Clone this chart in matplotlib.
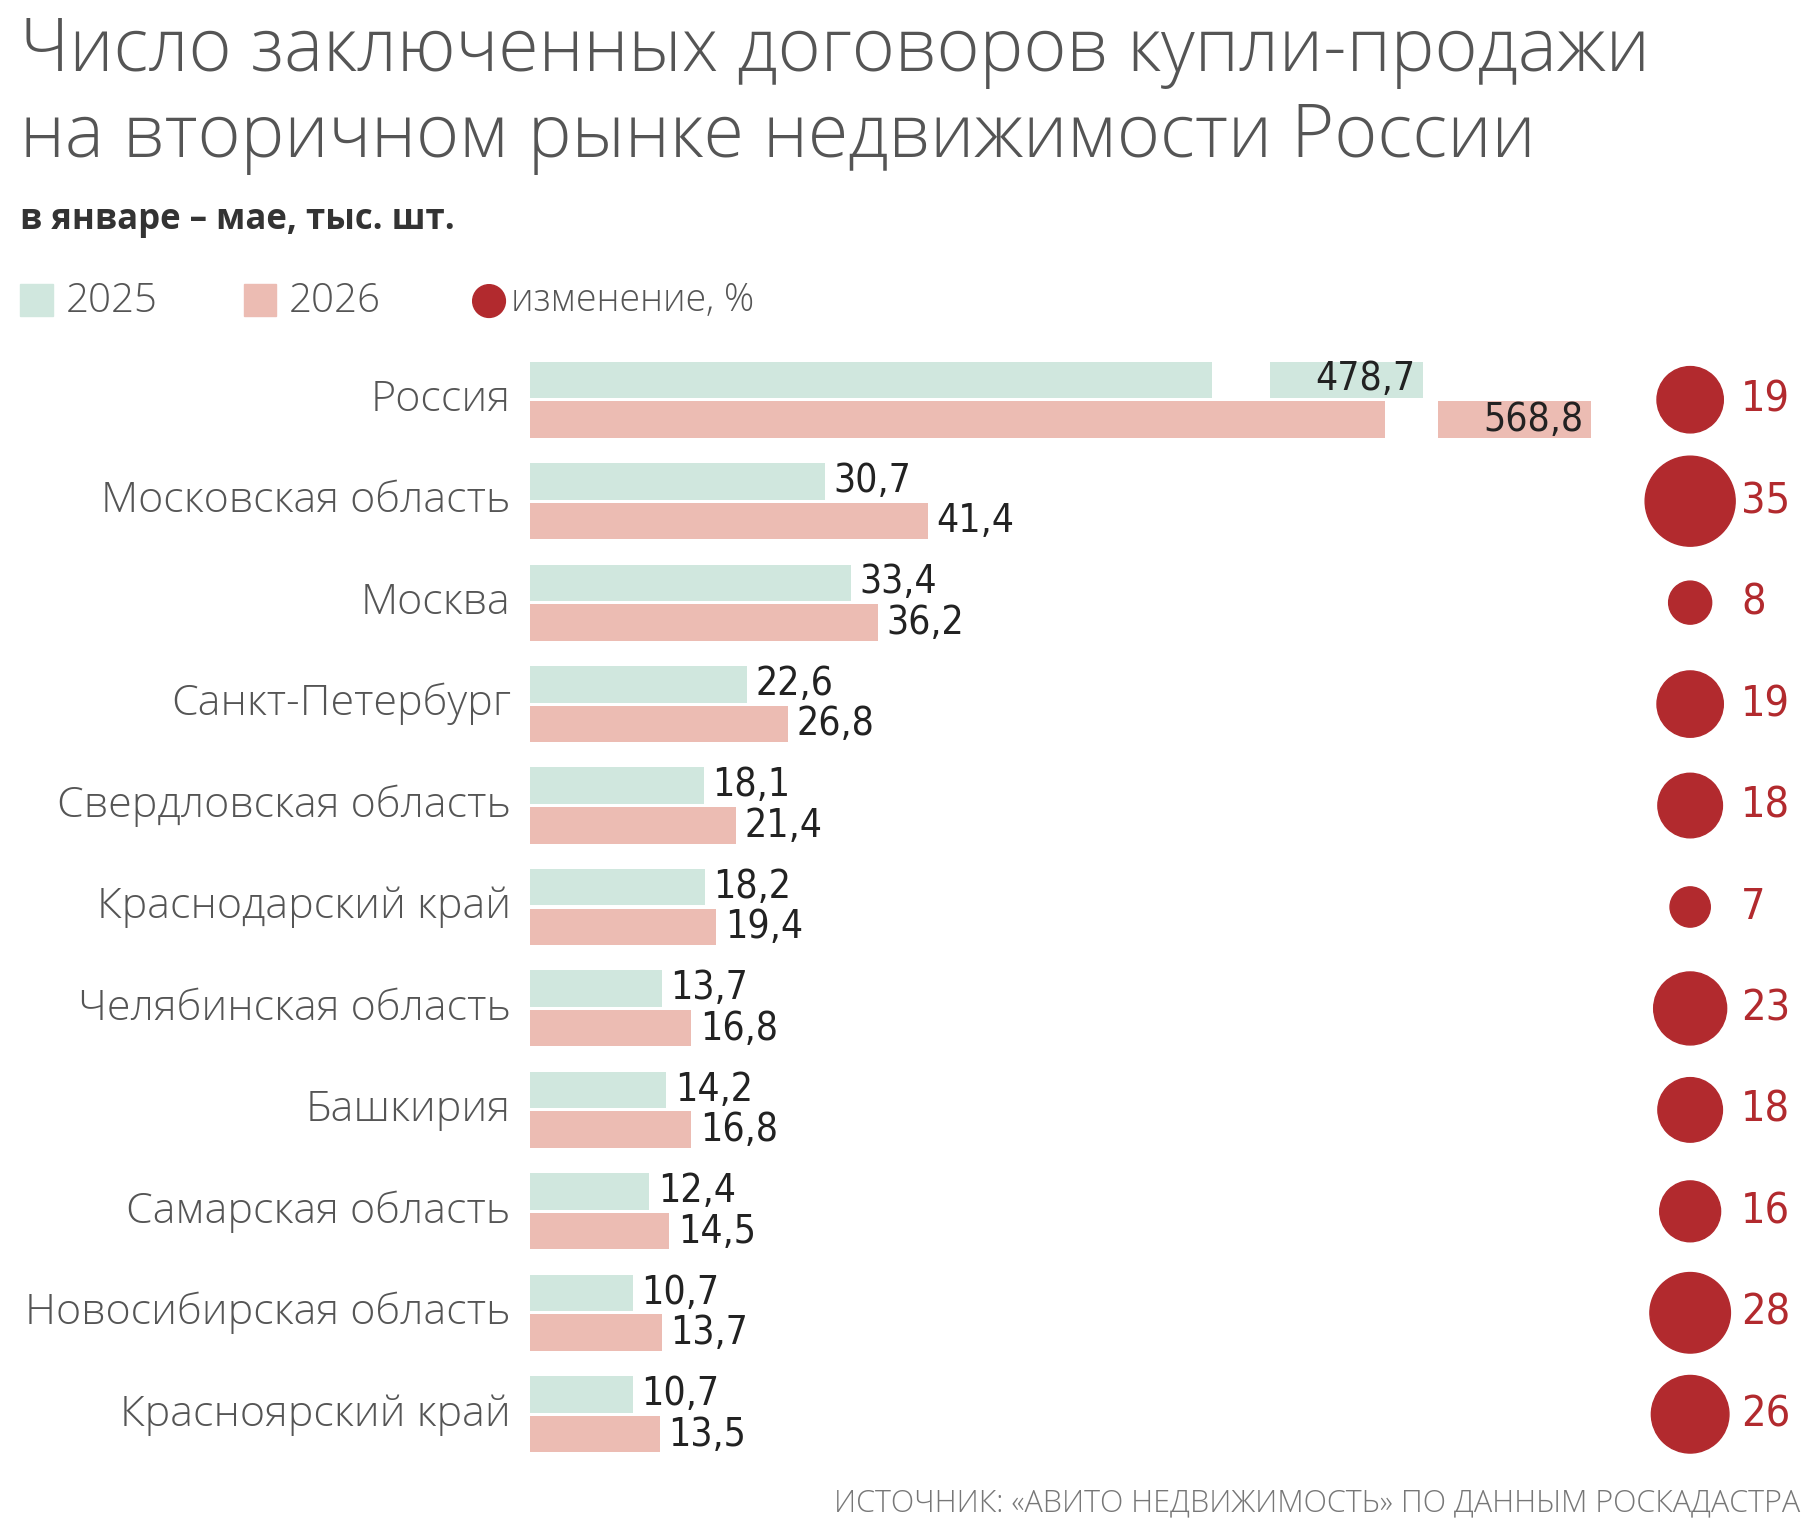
import numpy as np
import matplotlib.pyplot as plt
from matplotlib.patches import Ellipse

regions = ['Россия', 'Московская область', 'Москва', 'Санкт-Петербург',
           'Свердловская область', 'Краснодарский край', 'Челябинская область',
           'Башкирия', 'Самарская область', 'Новосибирская область', 'Красноярский край']
v2025 = [478.7, 30.7, 33.4, 22.6, 18.1, 18.2, 13.7, 14.2, 12.4, 10.7, 10.7]
v2026 = [568.8, 41.4, 36.2, 26.8, 21.4, 19.4, 16.8, 16.8, 14.5, 13.7, 13.5]
change = [19, 35, 8, 19, 18, 7, 23, 18, 16, 28, 26]

C25 = '#d0e7de'
C26 = '#ecbcb3'
RED = '#b22a2e'
GRAY = '#555555'
NUM = dict(family='DejaVu Sans', fontstretch='condensed')

RUSSIA_SCALE = 0.194  # broken bar for Russia
fmt = lambda v: ('%.1f' % v).replace('.', ',')

fig = plt.figure(figsize=(18.18, 15.36), dpi=100)
ax = fig.add_axes([0.2915, 0, 0.7085, 1])
ax.set_xlim(0, 134)
ax.set_ylim(11.2, -3.94)
ax.axis('off')

y = np.arange(len(regions))
w25 = [v * RUSSIA_SCALE if i == 0 else v for i, v in enumerate(v2025)]
w26 = [v * RUSSIA_SCALE if i == 0 else v for i, v in enumerate(v2026)]
ax.barh(y - 0.195, w25, height=0.36, color=C25)
ax.barh(y + 0.195, w26, height=0.36, color=C26)
# gaps in the Russia bars
ax.barh(-0.195, 6, left=71, height=0.4, color='white')
ax.barh(0.195, 5.5, left=89, height=0.4, color='white')

for i in range(len(regions)):
    ax.text(-2, i, regions[i], ha='right', va='center', fontsize=31,
            color=GRAY, family='Open Sans', fontweight='light')
    if i == 0:
        ax.text(w25[i] - 0.8, i - 0.2, fmt(v2025[i]), ha='right', va='center',
                fontsize=28, color='#222222', **NUM)
        ax.text(w26[i] - 0.8, i + 0.2, fmt(v2026[i]), ha='right', va='center',
                fontsize=28, color='#222222', **NUM)
    else:
        ax.text(w25[i] + 0.9, i - 0.2, fmt(v2025[i]), ha='left', va='center',
                fontsize=28, color='#222222', **NUM)
        ax.text(w26[i] + 0.9, i + 0.2, fmt(v2026[i]), ha='left', va='center',
                fontsize=28, color='#222222', **NUM)

ax.scatter(np.full(len(regions), 120.7), y, s=np.array(change) * 120,
           color=RED, zorder=3)
for i, c in enumerate(change):
    ax.text(126.0, y[i], str(c), ha='left', va='center', fontsize=31,
            color=RED, **NUM)

# titles
fig.text(0.011, 0.966, 'Число заключенных договоров купли-продажи', fontsize=53,
         color=GRAY, family='Open Sans', fontweight='light', va='center')
fig.text(0.011, 0.910, 'на вторичном рынке недвижимости России', fontsize=53,
         color=GRAY, family='Open Sans', fontweight='light', va='center')
fig.text(0.011, 0.857, 'в январе – мае, тыс. шт.', fontsize=25, color='#333333',
         family='Open Sans', fontweight='bold', va='center')

# legend
ly = 0.804
fig.patches.append(plt.Rectangle((0.011, ly - 0.010), 0.018, 0.021, color=C25,
                                 transform=fig.transFigure))
fig.text(0.036, ly, '2025', fontsize=29, color=GRAY, family='Open Sans',
         fontweight='light', va='center')
fig.patches.append(plt.Rectangle((0.134, ly - 0.010), 0.018, 0.021, color=C26,
                                 transform=fig.transFigure))
fig.text(0.159, ly, '2026', fontsize=29, color=GRAY, family='Open Sans',
         fontweight='light', va='center')
fig.patches.append(Ellipse((0.269, ly), 0.018, 0.018 * 1818 / 1536, color=RED,
                           transform=fig.transFigure))
fig.text(0.281, ly, 'изменение, %', fontsize=27, color=GRAY, family='Open Sans',
         fontweight='light', va='center')

fig.text(0.99, 0.021, 'ИСТОЧНИК: «АВИТО НЕДВИЖИМОСТЬ» ПО ДАННЫМ РОСКАДАСТРА',
         ha='right', va='center', fontsize=22, color='#777777',
         family='Open Sans', fontweight='light')

fig.savefig('out.png', dpi=100, facecolor='white')
